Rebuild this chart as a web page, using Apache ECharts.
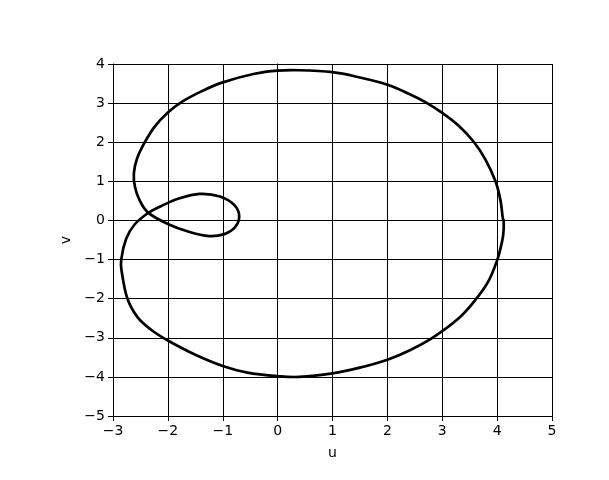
<!DOCTYPE html>
<html>
<head>
<meta charset="utf-8">
<script src="https://cdn.jsdelivr.net/npm/echarts@6/dist/echarts.min.js"></script>
<style>html,body{margin:0;padding:0;background:#fff}#c{width:609px;height:480px}</style>
</head>
<body>
<div id="c"></div>
<script>
// Points, in drawing order (u, v); closed curve
const uValues = [4.10, 4.06, 3.97, 3.79, 3.58, 3.30, 3.00, 2.70, 2.39, 2.00, 1.48, 1.00, 0.39, 0.00, -0.42, -1.00, -1.39, -1.76, -2.00, -2.24, -2.42, -2.56, -2.62, -2.60, -2.52, -2.36, -2.00, -1.62, -1.25, -0.97, -0.78, -0.70, -0.78, -1.05, -1.42, -1.80, -2.12, -2.36, -2.61, -2.76, -2.85, -2.84, -2.74, -2.55, -2.30, -2.00, -1.52, -1.00, -0.55, 0.00, 0.39, 1.00, 1.48, 2.00, 2.39, 2.82, 3.30, 3.61, 3.85, 4.00, 4.06, 4.11, 4.12];
const vValues = [0.09, 0.52, 1.00, 1.55, 2.00, 2.42, 2.75, 3.02, 3.24, 3.47, 3.66, 3.79, 3.84, 3.83, 3.75, 3.53, 3.30, 3.02, 2.76, 2.40, 2.00, 1.59, 1.21, 0.86, 0.53, 0.20, -0.09, -0.29, -0.40, -0.35, -0.18, 0.10, 0.38, 0.61, 0.68, 0.56, 0.37, 0.19, -0.11, -0.47, -1.00, -1.32, -1.99, -2.48, -2.80, -3.07, -3.42, -3.72, -3.89, -3.98, -4.00, -3.91, -3.77, -3.56, -3.33, -3.00, -2.50, -2.02, -1.53, -1.02, -0.72, -0.38, -0.04];
const xTicks = [-3, -2, -1, 0, 1, 2, 3, 4, 5];
const yTicks = [-5, -4, -3, -2, -1, 0, 1, 2, 3, 4];

const pts = uValues.map((u, i) => [u, vValues[i]]);
const fmt = v => String(v).replace('-', '\u2212');
const font = 'DejaVu Sans';
const chart = echarts.init(document.getElementById('c'), null, {renderer: 'canvas'});
const common = {
  axisLine: {show: true, onZero: false, lineStyle: {color: '#000', width: 1}},
  axisTick: {show: true, inside: false, length: 5, lineStyle: {color: '#000', width: 1}},
  splitLine: {show: true, lineStyle: {color: '#000', width: 1}},
  axisLabel: {color: '#000', fontFamily: font, fontSize: 14, formatter: fmt},
  nameTextStyle: {color: '#000', fontFamily: font, fontSize: 14}
};

// Smooth closed path through the data points (Catmull-Rom drawn as Bezier segments)
function renderCurve(params, api) {
  if (params.dataIndex !== 0) return null;
  const P = pts.map(p => api.coord(p));
  const n = P.length;
  const f = (a) => a.toFixed(2);
  let d = 'M' + f(P[0][0]) + ' ' + f(P[0][1]);
  for (let i = 0; i < n; i++) {
    const p0 = P[(i - 1 + n) % n], p1 = P[i], p2 = P[(i + 1) % n], p3 = P[(i + 2) % n];
    const c1 = [p1[0] + (p2[0] - p0[0]) / 6, p1[1] + (p2[1] - p0[1]) / 6];
    const c2 = [p2[0] - (p3[0] - p1[0]) / 6, p2[1] - (p3[1] - p1[1]) / 6];
    d += 'C' + f(c1[0]) + ' ' + f(c1[1]) + ' ' + f(c2[0]) + ' ' + f(c2[1]) + ' ' + f(p2[0]) + ' ' + f(p2[1]);
  }
  return {
    type: 'path',
    shape: {pathData: d},
    style: {fill: 'none', stroke: '#000', lineWidth: 2.7, lineJoin: 'round'}
  };
}

chart.setOption({
  animation: false,
  backgroundColor: '#fff',
  grid: {left: 113, right: 57, top: 64, bottom: 64, containLabel: false},
  xAxis: [
    Object.assign({}, common, {type: 'value', min: xTicks[0], max: xTicks[xTicks.length - 1], interval: 1,
      name: 'u', nameLocation: 'middle', nameGap: 30, axisLabel: Object.assign({}, common.axisLabel, {margin: 8})}),
    {type: 'value', position: 'top', min: xTicks[0], max: xTicks[xTicks.length - 1], interval: 1,
      axisLine: {show: true, lineStyle: {color: '#000', width: 1}}, axisTick: {show: false}, axisLabel: {show: false}, splitLine: {show: false}}
  ],
  yAxis: [
    Object.assign({}, common, {type: 'value', min: yTicks[0], max: yTicks[yTicks.length - 1], interval: 1,
      name: 'v', nameLocation: 'middle', nameGap: 38, axisLabel: Object.assign({}, common.axisLabel, {margin: 8})}),
    {type: 'value', position: 'right', min: yTicks[0], max: yTicks[yTicks.length - 1], interval: 1,
      axisLine: {show: true, lineStyle: {color: '#000', width: 1}}, axisTick: {show: false}, axisLabel: {show: false}, splitLine: {show: false}}
  ],
  series: [{
    type: 'custom',
    coordinateSystem: 'cartesian2d',
    xAxisIndex: 0,
    yAxisIndex: 0,
    data: pts,
    encode: {x: 0, y: 1},
    renderItem: renderCurve,
    z: 5
  }]
});
</script>
</body>
</html>
